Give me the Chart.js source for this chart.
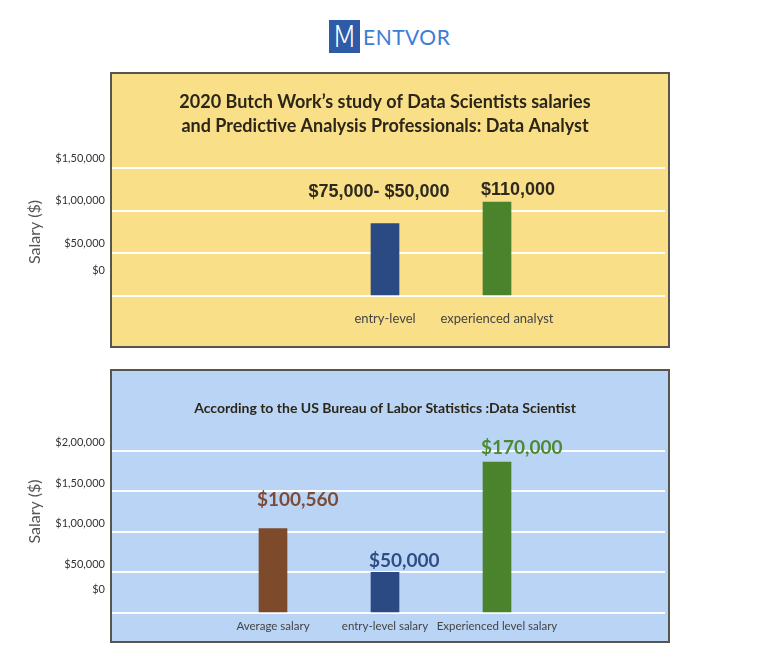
<!DOCTYPE html>
<html lang="en">
<head>
<meta charset="UTF-8">
<title>Data Analyst and Data Scientist salaries</title>
<script src="https://cdn.jsdelivr.net/npm/chart.js"></script>
<style>
  body { margin: 0; background: #fff; width: 768px; height: 670px; position: relative; overflow: hidden; font-family: Lato, sans-serif; }
  .logo { position: absolute; left: 329px; top: 20px; height: 33px; display: flex; align-items: center; }
  .logo .mark { width: 31px; height: 33px; background: #2d5ba7; color: #fff; font: 300 30px "DejaVu Sans", sans-serif; text-align: center; line-height: 33px; }
  .logo .word { color: #3b7dd6; font: 21px Lato, sans-serif; margin-left: 3px; letter-spacing: 0.5px; }
  .panel { position: absolute; left: 110px; width: 560px; box-sizing: border-box; }
  .panel.fill { z-index: 0; }
  .panel.frame { z-index: 2; border: 2px solid #58554e; pointer-events: none; }
  .top { top: 72px; height: 276px; }
  .bottom { top: 369px; height: 274px; }
  .yellow { background: #f8df88; }
  .blue { background: #bad4f5; }
  .wrap { position: absolute; left: 0; width: 768px; z-index: 1; }
</style>
</head>
<body>
<div class="logo"><div class="mark">M</div><div class="word">ENTVOR</div></div>

<div class="panel fill top yellow"></div>
<div class="wrap" style="top:72px;height:276px"><canvas id="analystChart"></canvas></div>
<div class="panel frame top"></div>

<div class="panel fill bottom blue"></div>
<div class="wrap" style="top:369px;height:274px"><canvas id="scientistChart"></canvas></div>
<div class="panel frame bottom"></div>

<script>
// top panel: Butch Work study, data analysts
const analystRoles = ['entry-level', 'experienced analyst'];
const analystSalaries = [85000, 110000];
const analystValueText = ['$75,000- $50,000', '$110,000'];
const analystColors = ['#2b4a84', '#4a832c'];
const analystTicks = ['$0', '$50,000', '$1,00,000', '$1,50,000'];

// bottom panel: US Bureau of Labor Statistics, data scientists
const scientistRoles = ['Average salary', 'entry-level salary', 'Experienced level salary'];
const scientistSalaries = [104000, 50000, 186000];
const scientistValueText = ['$100,560', '$50,000', '$170,000'];
const scientistColors = ['#7d4a2b', '#2b4a84', '#4a832c'];
const scientistTextColors = ['#7b4b36', '#2e4f86', '#4b8a33'];
const scientistTicks = ['$0', '$50,000', '$1,00,000', '$1,50,000', '$2,00,000'];

// labels over the bars (text only, placed from each bar element)
const valueLabels = {
  id: 'valueLabels',
  afterDatasetsDraw(chart, args, opts) {
    const ctx = chart.ctx;
    const bars = chart.getDatasetMeta(0).data;
    bars.forEach((bar, i) => {
      const text = opts.texts[i];
      if (!text) return;
      ctx.save();
      ctx.font = opts.font;
      ctx.fillStyle = opts.colors[i];
      ctx.textBaseline = 'middle';
      ctx.textAlign = opts.align[i];
      const x = opts.align[i] === 'left' ? bar.x - bar.width / 2 - 2 : bar.x - 6;
      ctx.fillText(text, x, bar.y - opts.gap[i]);
      ctx.restore();
    });
  }
};

function pad(arr, before, after, fill) {
  return [...Array(before).fill(fill), ...arr, ...Array(after).fill(fill)];
}

function yTickCallback(names) {
  return (value, index) => {
    if (index === 0) return [names[0], '', ''];
    return names[index] ?? '';
  };
}

const tickFont = { family: 'Lato', size: 11, lineHeight: 1.4 };
const axisTitle = { display: true, text: 'Salary ($)', color: '#555', font: { family: 'Lato', size: 16 }, padding: { top: 25, bottom: 0 } };

new Chart(document.getElementById('analystChart'), {
  type: 'bar',
  data: {
    labels: pad(analystRoles, 2, 1, ''),
    datasets: [{
      data: pad(analystSalaries, 2, 1, null),
      backgroundColor: pad(analystColors, 2, 1, 'transparent'),
      barThickness: 28
    }]
  },
  options: {
    responsive: true,
    maintainAspectRatio: false,
    animation: false,
    layout: { padding: { left: 0, right: 103, top: 0, bottom: 0 } },
    plugins: {
      legend: { display: false },
      tooltip: { enabled: false },
      title: {
        display: true,
        fullSize: false,
        text: ['2020 Butch Work\u2019s study of Data Scientists salaries', 'and Predictive Analysis Professionals: Data Analyst'],
        color: '#2b2618',
        font: { family: 'Lato', size: 18, weight: 'bold', lineHeight: '24px' },
        padding: { top: 18, bottom: 30 }
      },
      valueLabels: {
        texts: pad(analystValueText, 2, 1, ''),
        colors: pad(['#2e2a1f', '#2e2a1f'], 2, 1, ''),
        align: pad(['center', 'left'], 2, 1, ''),
        gap: pad([31, 12], 2, 1, 0),
        font: 'bold 18px "Liberation Sans", Arial, sans-serif'
      }
    },
    scales: {
      x: {
        grid: { display: false, drawTicks: false },
        border: { display: false },
        ticks: { color: '#444', font: { family: 'Lato', size: 13 }, padding: 15, maxRotation: 0, autoSkip: false },
        afterFit: s => { s.height = 52; }
      },
      y: {
        min: 0,
        max: 150000,
        ticks: { stepSize: 50000, color: '#333', font: tickFont, padding: 0, labelOffset: -10, autoSkip: false, callback: yTickCallback(analystTicks) },
        grid: { color: '#ffffff', lineWidth: 2, drawTicks: false },
        border: { display: false },
        title: axisTitle,
        afterFit: s => { s.width = 105; }
      }
    }
  },
  plugins: [valueLabels]
});

new Chart(document.getElementById('scientistChart'), {
  type: 'bar',
  data: {
    labels: pad(scientistRoles, 1, 1, ''),
    datasets: [{
      data: pad(scientistSalaries, 1, 1, null),
      backgroundColor: pad(scientistColors, 1, 1, 'transparent'),
      barThickness: 28
    }]
  },
  options: {
    responsive: true,
    maintainAspectRatio: false,
    animation: false,
    layout: { padding: { left: 0, right: 103, top: 0, bottom: 0 } },
    plugins: {
      legend: { display: false },
      tooltip: { enabled: false },
      title: {
        display: true,
        fullSize: false,
        text: 'According to the US Bureau of Labor Statistics :Data Scientist',
        color: '#2b2618',
        font: { family: 'Lato', size: 14, weight: 'bold', lineHeight: '16px' },
        padding: { top: 31, bottom: -6 }
      },
      valueLabels: {
        texts: pad(scientistValueText, 1, 1, ''),
        colors: pad(scientistTextColors, 1, 1, ''),
        align: pad(['left', 'left', 'left'], 1, 1, ''),
        gap: pad([29, 12, 14], 1, 1, 0),
        font: 'bold 19px Lato, sans-serif'
      }
    },
    scales: {
      x: {
        grid: { display: false, drawTicks: false },
        border: { display: false },
        ticks: { color: '#444', font: { family: 'Lato', size: 11.5 }, padding: 6, maxRotation: 0, autoSkip: false },
        afterFit: s => { s.height = 30; }
      },
      y: {
        min: 0,
        max: 250000,
        ticks: { stepSize: 50000, color: '#333', font: tickFont, padding: 0, labelOffset: -8, autoSkip: false, callback: yTickCallback(scientistTicks) },
        grid: {
          color: c => (c.tick && c.tick.value > 200000 ? 'transparent' : '#ffffff'),
          lineWidth: 2,
          drawTicks: false
        },
        border: { display: false },
        title: axisTitle,
        afterFit: s => { s.width = 105; }
      }
    }
  },
  plugins: [valueLabels]
});
</script>
</body>
</html>
